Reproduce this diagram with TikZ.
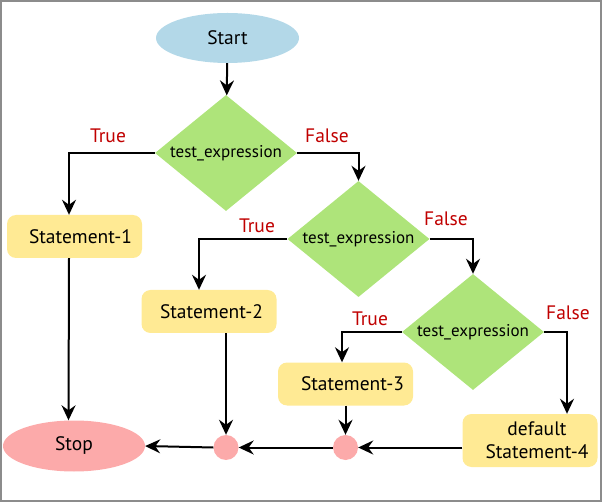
\documentclass[tikz,border=0pt]{standalone}
\usepackage{fontspec}
\setmainfont{PT Sans}
\usetikzlibrary{shapes.geometric,arrows.meta,calc}
\definecolor{startc}{HTML}{B3D8E8}
\definecolor{diac}{HTML}{AEE47A}
\definecolor{stmc}{HTML}{FFEA94}
\definecolor{stopc}{HTML}{FCAAAA}
\definecolor{lblc}{HTML}{C00000}
\definecolor{framec}{HTML}{8C8C8C}
\tikzset{
  term/.style={ellipse, draw=none, inner sep=0pt, font=\fontsize{19.5}{22}\selectfont},
  dia/.style={diamond, fill=diac, inner sep=0pt, minimum width=142pt, minimum height=116pt, font=\fontsize{17}{20}\selectfont},
  stm/.style={rectangle, rounded corners=9pt, fill=stmc, minimum width=135pt, minimum height=43pt, font=\fontsize{19.5}{22}\selectfont},
  joint/.style={circle, fill=stopc, minimum size=25pt, inner sep=0pt},
  lbl/.style={text=lblc, font=\fontsize{19.5}{22}\selectfont},
  arr/.style={line width=2pt, -{Stealth[length=15pt,width=14pt,inset=5pt]}},
}
\begin{document}
\begin{tikzpicture}[x=1pt,y=-1pt]
\useasboundingbox (0,0) rectangle (602,502);
\draw[framec, line width=2pt] (1,1) rectangle (601,501);
\node[term, fill=startc, minimum width=143pt, minimum height=50pt] (start) at (227.5,38) {Start};
\node[dia] (d1) at (226,153) {\makebox[0pt]{\raisebox{-1.5pt}{test\_expression}}};
\node[dia] (d2) at (358.5,239) {\makebox[0pt]{\raisebox{-1.5pt}{test\_expression}}};
\node[dia] (d3) at (473,332) {\makebox[0pt]{\raisebox{-1.5pt}{test\_expression}}};
\node[stm] (s1) at (74.5,236.5) {\makebox[0pt]{\hspace{12pt}Statement-1}};
\node[stm] (s2) at (209,311.5) {\makebox[0pt]{\hspace{5pt}Statement-2}};
\node[stm] (s3) at (345.5,384) {\makebox[0pt]{\hspace{14pt}Statement-3}};
\node[stm, minimum height=53pt, align=center, font=\fontsize{19.5}{23}\selectfont] (s4) at (530,440.5) {\hspace*{14pt}default\\\hspace*{14pt}Statement-4};
\node[term, fill=stopc, minimum width=142pt, minimum height=51pt] (stop) at (74,446) {Stop};
\node[joint] (c1) at (226,447.5) {};
\node[joint] (c2) at (345.5,447.5) {};
\node[lbl] (t1) at (108,136) {True};
\node[lbl] (f1) at (327,136) {False};
\node[lbl] (t2) at (257,226) {True};
\node[lbl] (f2) at (446,219) {False};
\node[lbl] (t3) at (370,319) {True};
\node[lbl] (f3) at (568,313) {False};
\draw[arr] (start) -- (d1);
\draw[arr] (d1.west) -| ([xshift=-5.5pt]s1.north);
\draw[arr] (d1.east) -| (d2.north);
\draw[arr] (d2.west) -| ([xshift=-10pt]s2.north);
\draw[arr] (d2.east) -| (d3.north);
\draw[arr] (d3.west) -| ([xshift=-3.5pt]s3.north);
\draw[arr] (d3.east) -| ([xshift=37pt]s4.north);
\draw[arr] ([xshift=-5.5pt]s1.south) -- ([xshift=-5.5pt]stop.north);
\draw[arr] ([xshift=17pt]s2.south) -- (c1.north);
\draw[arr] (s3.south) -- (c2.north);
\draw[arr] (s4.west |- c2.east) -- (c2.east);
\draw[arr] (c2.west) -- (c1.east);
\draw[arr] (c1.west) -- (stop.east);
\end{tikzpicture}
\end{document}
